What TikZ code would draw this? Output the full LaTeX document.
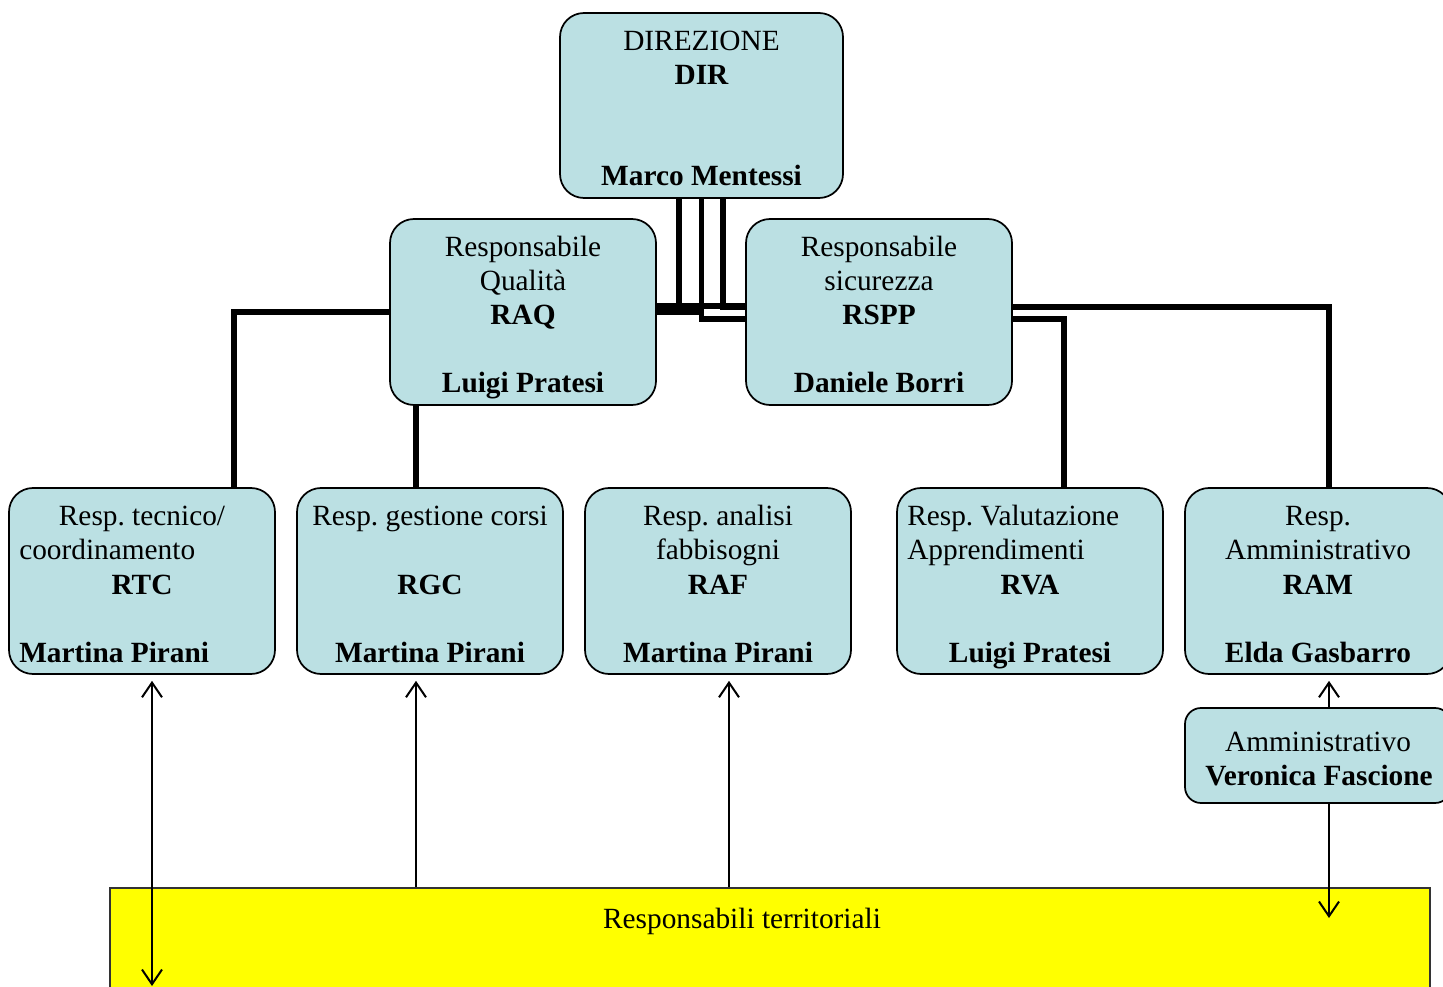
\documentclass[tikz,border=0pt]{standalone}
\usepackage{fontspec}
\setmainfont{Liberation Serif}
\usetikzlibrary{arrows.meta}
\pgfdeclarelayer{bg}
\pgfsetlayers{bg,main}
\definecolor{boxfill}{RGB}{187,224,227}
\definecolor{terrfill}{RGB}{255,255,0}
\frenchspacing
\begin{document}
\begin{tikzpicture}[x=0.75pt,y=-0.75pt,
  box/.style={draw=black,line width=1.3pt,fill=boxfill,rounded corners=18pt,inner sep=0pt,
    minimum width=199.5pt,minimum height=139.5pt},
  t/.style={inner sep=0pt,anchor=base,font=\fontsize{22}{26}\selectfont},
  tb/.style={inner sep=0pt,anchor=base,font=\fontsize{22}{26}\selectfont\bfseries},
  tl/.style={t,anchor=base west},
  tbl/.style={tb,anchor=base west},
  conn/.style={line width=4.2pt},
  arr/.style={line width=1.5pt,>={Straight Barb[length=11pt,width=15pt]}}]
\useasboundingbox (0,0) rectangle (1443,987);

% boxes
\node[box,minimum width=212.25pt,minimum height=138.75pt] (dir) at (701.5,105.5) {};
\node[box] (raq) at (523,312) {};
\node[box] (rspp) at (879,312) {};
\node[box] (rtc) at (142,581) {};
\node[box] (rgc) at (430,581) {};
\node[box] (raf) at (718,581) {};
\node[box] (rva) at (1030,581) {};
\node[box] (ram) at (1318,581) {};
\node[box,rounded corners=12pt,minimum height=71.25pt] (amm) at (1318,755.5) {};
\node[draw=black!80,line width=1.3pt,fill=terrfill,inner sep=0pt,
      minimum width=990pt,minimum height=93pt] (terr) at (770,950) {};

% texts
\node[t]  (dirA) at (701.5,51) {DIREZIONE};
\node[tb] (dirB) at (701.5,85) {DIR};
\node[tb] (dirC) at (701.5,186) {Marco Mentessi};

\node[t]  (raqA) at (523,257) {Responsabile};
\node[t]  (raqB) at (523,291) {Qualità};
\node[tb] (raqC) at (523,325) {RAQ};
\node[tb] (raqD) at (523,393) {Luigi Pratesi};

\node[t]  (rsppA) at (879,257) {Responsabile};
\node[t]  (rsppB) at (879,291) {sicurezza};
\node[tb] (rsppC) at (879,325) {RSPP};
\node[tb] (rsppD) at (879,393) {Daniele Borri};

\node[t]   (rtcA) at (142,526) {Resp. tecnico/};
\node[tl]  (rtcB) at (19,560) {coordinamento};
\node[tb]  (rtcC) at (142,594) {RTC};
\node[tbl] (rtcD) at (19,662) {Martina Pirani};

\node[t]  (rgcA) at (430,526) {Resp. gestione corsi};
\node[tb] (rgcC) at (430,594) {RGC};
\node[tb] (rgcD) at (430,662) {Martina Pirani};

\node[t]  (rafA) at (718,526) {Resp. analisi};
\node[t]  (rafB) at (718,560) {fabbisogni};
\node[tb] (rafC) at (718,594) {RAF};
\node[tb] (rafD) at (718,662) {Martina Pirani};

\node[tl] (rvaA) at (907,526) {Resp. Valutazione};
\node[tl] (rvaB) at (907,560) {Apprendimenti};
\node[tb] (rvaC) at (1030,594) {RVA};
\node[tb] (rvaD) at (1030,662) {Luigi Pratesi};

\node[t]  (ramA) at (1318,526) {Resp.};
\node[t]  (ramB) at (1318,560) {Amministrativo};
\node[tb] (ramC) at (1318,594) {RAM};
\node[tb] (ramD) at (1318,662) {Elda Gasbarro};

\node[t]  (ammA) at (1318,751) {Amministrativo};
\node[tb] (ammB) at (1319,785) {Veronica Fascione};

\node[t] (terrT) at (742,928) {Responsabili territoriali};

% connectors behind the boxes
\coordinate (jRTC) at (234,312);
\coordinate (jRGC) at (416,312);
\coordinate (jRVA) at (1064,319);
\coordinate (jRAM) at (1329,307);
\begin{pgfonlayer}{bg}
\draw[conn] ([xshift=-16.9pt]dir.south) |- (jRTC) -| ([xshift=69pt]rtc.north);
\draw[conn] (dir.south) |- (jRGC) -| ([xshift=-10.5pt]rgc.north);
\draw[conn] (dir.south) |- (jRVA) -| ([xshift=25.5pt]rva.north);
\draw[conn] ([xshift=16.1pt]dir.south) |- ([yshift=4.5pt]raq.east);
\draw[conn] ([xshift=-16.9pt]dir.south) |- ([yshift=4.5pt]rspp.west);
\draw[conn] ([xshift=16.1pt]dir.south) |- (jRAM) -| ([xshift=8.25pt]ram.north);
\end{pgfonlayer}

% arrows
\coordinate (bRTC) at (152,986);
\coordinate (aEnd) at (1329,918);
\draw[arr,<->,shorten <=4.5pt] ([xshift=7.5pt]rtc.south) -- (bRTC);
\draw[arr,<-,shorten <=4.5pt] ([xshift=-10.5pt]rgc.south) -- ([xshift=-10.5pt]rgc.south |- terr.north);
\draw[arr,<-,shorten <=4.5pt] ([xshift=8.25pt]raf.south) -- ([xshift=8.25pt]raf.south |- terr.north);
\draw[arr,<-,shorten <=4.5pt] ([xshift=8.25pt]ram.south) -- ([xshift=8.25pt]ram.south |- amm.north);
\draw[arr,->] ([xshift=8.25pt]amm.south) -- (aEnd);
\end{tikzpicture}
\end{document}
